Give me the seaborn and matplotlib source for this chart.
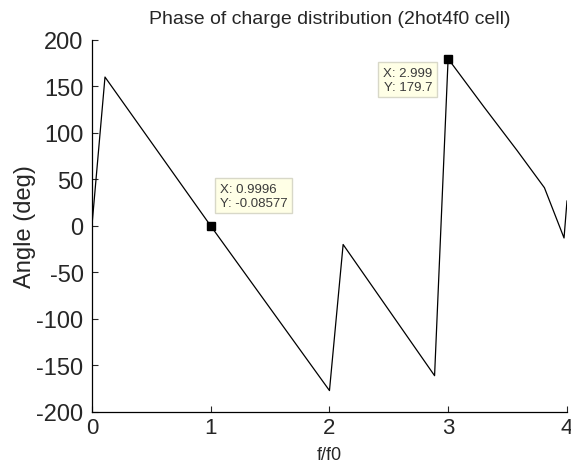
import matplotlib
matplotlib.use("Agg")
import matplotlib.pyplot as plt
import seaborn as sns

# phase of charge distribution
freq = [0.0, 0.11, 1.0, 2.0, 2.115, 2.885, 2.999, 3.30, 3.58, 3.81, 3.975, 4.0]
phase = [0.0, 160.0, 0.0, -177.0, -20.0, -161.0, 179.7, 128.0, 81.0, 41.0, -13.0, 27.0]

# data tips
tip_x = [0.9996, 2.999]
tip_y = [-0.08577, 179.7]
tip_text = ["X: 0.9996\nY: -0.08577", "X: 2.999\nY: 179.7"]

xticks = [0, 1, 2, 3, 4]
yticks = [-200, -150, -100, -50, 0, 50, 100, 150, 200]

sns.set_style("ticks", {"xtick.direction": "in", "ytick.direction": "in"})
plt.rcParams["font.family"] = ["Liberation Sans", "DejaVu Sans"]
plt.rcParams["axes.unicode_minus"] = False

fig = plt.figure(figsize=(5.71, 4.64), dpi=100)
ax = fig.add_axes([0.161, 0.110, 0.832, 0.802])

sns.lineplot(x=freq, y=phase, color="black", linewidth=0.9, ax=ax)

ax.plot(tip_x, tip_y, linestyle="none", marker="s", markersize=6,
        color="black")

# offsets in pixels for each tip box
offsets = [(9, 43), (-16, -8)]
aligns = [("left", "top"), ("right", "top")]
for x, y, txt, off, al in zip(tip_x, tip_y, tip_text, offsets, aligns):
    ax.annotate(txt, xy=(x, y), xytext=off, textcoords="offset pixels",
                ha=al[0], va=al[1], fontsize=9.5, color="#3a3a3a",
                linespacing=1.2,
                bbox=dict(boxstyle="square,pad=0.35", facecolor="#ffffe6",
                          edgecolor="#d8d8c8", linewidth=1.0))

ax.set_xlim(0, 4)
ax.set_ylim(-200, 200)
ax.set_xticks(xticks)
ax.set_yticks(yticks)
ax.tick_params(axis="y", labelsize=17, length=4, width=0.8, pad=6)
ax.tick_params(axis="x", labelsize=16, length=4, width=0.8, pad=3.5)
sns.despine(ax=ax)
for s in ["left", "bottom"]:
    ax.spines[s].set_linewidth(0.9)
    ax.spines[s].set_color("black")

ax.set_xlabel("f/f0", fontsize=13, labelpad=6)
ax.set_ylabel("Angle (deg)", fontsize=17, labelpad=0)
ax.set_title("Phase of charge distribution (2hot4f0 cell)", fontsize=14,
             pad=12)

plt.savefig("out.png", dpi=100)
